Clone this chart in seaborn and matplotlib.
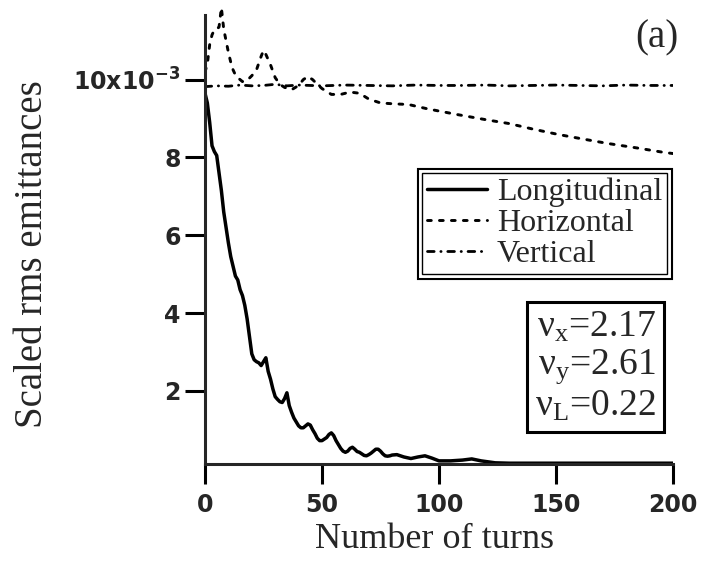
import matplotlib
matplotlib.use("Agg")
import matplotlib.pyplot as plt
import matplotlib.patheffects as pe
import seaborn as sns
import pandas as pd

# --- data -------------------------------------------------------------
long_turns = [0, 1, 2, 3, 4, 5, 6, 7, 8, 9, 10, 11, 12, 13, 14, 15, 16, 17, 18, 19,
              20, 21, 22, 23, 24, 25, 26, 27, 28, 29, 30, 31, 32, 33, 34, 35, 36, 37, 38, 39,
              40, 41, 42, 43, 44, 45, 46, 47, 48, 49, 50, 51, 52, 53, 54, 55, 56, 57, 58, 59,
              60, 61, 62, 63, 64, 65, 66, 67, 68, 69, 70, 71, 72, 73, 74, 75, 76, 77, 78, 79,
              80, 82, 85, 88, 91, 94, 97, 100, 105, 110, 114, 118, 124, 130, 140, 150, 160,
              170, 180, 190, 200]
long_emit = [9.65, 9.4, 8.9, 8.3, 8.15, 8.05, 7.6, 7.15, 6.6, 6.2, 5.8, 5.45, 5.2, 4.95, 4.85,
             4.6, 4.45, 4.2, 3.85, 3.4, 2.95, 2.8, 2.75, 2.72, 2.65, 2.75, 2.85, 2.5, 2.3, 2.05,
             1.85, 1.78, 1.72, 1.7, 1.8, 1.95, 1.62, 1.45, 1.3, 1.2, 1.1, 1.05, 1.05, 1.1, 1.15,
             1.12, 1.0, 0.9, 0.78, 0.72, 0.72, 0.76, 0.8, 0.88, 0.92, 0.85, 0.72, 0.62, 0.52,
             0.45, 0.42, 0.45, 0.52, 0.55, 0.5, 0.44, 0.42, 0.38, 0.34, 0.33, 0.36, 0.4, 0.45,
             0.5, 0.5, 0.45, 0.38, 0.33, 0.32, 0.33, 0.35, 0.36, 0.3, 0.26, 0.3, 0.33, 0.27,
             0.2, 0.2, 0.22, 0.25, 0.2, 0.15, 0.14, 0.14, 0.14, 0.14, 0.14, 0.14, 0.14, 0.14]

horiz_turns = [0, 1, 2, 3, 4, 5, 6, 7, 8, 9, 10, 11, 12, 13, 14, 16, 18, 20, 22, 24, 25, 26,
               28, 30, 32, 34, 37, 40, 42, 44, 46, 48, 50, 54, 58, 62, 66, 70, 75, 80, 87,
               95, 108, 120, 130, 140, 151, 160, 172, 185, 196, 200]
horiz_emit = [10.2, 10.4, 10.9, 11.15, 11.28, 11.3, 11.35, 11.85, 11.3, 11.0, 10.7, 10.45,
              10.25, 10.12, 10.05, 9.95, 9.98, 10.1, 10.25, 10.6, 10.75, 10.65, 10.38, 10.05,
              9.88, 9.8, 9.74, 9.85, 10.0, 10.08, 10.0, 9.88, 9.77, 9.62, 9.62, 9.68, 9.65,
              9.5, 9.4, 9.38, 9.36, 9.25, 9.1, 8.97, 8.87, 8.73, 8.59, 8.49, 8.36, 8.24,
              8.13, 8.1]

vert_turns = [0, 5, 10, 15, 20, 25, 30, 35, 40, 45, 50, 60, 70, 80, 90, 100, 110, 120, 130,
              140, 150, 160, 170, 180, 190, 200]
vert_emit = [9.82, 9.84, 9.83, 9.86, 9.84, 9.85, 9.88, 9.84, 9.86, 9.85, 9.84, 9.86, 9.85,
             9.84, 9.86, 9.85, 9.85, 9.86, 9.84, 9.85, 9.86, 9.85, 9.84, 9.86, 9.85, 9.85]

series_names = ["Longitudinal", "Horizontal", "Vertical"]
y_ticks = [2, 4, 6, 8, 10]
y_tick_labels = ["2", "4", "6", "8", r"10x10$^{\mathregular{-3}}$"]
x_ticks = [0, 50, 100, 150, 200]
tune_lines = [r"$\mathregular{ν_x}$=2.17", r"$\mathregular{ν_y}$=2.61", r"$\mathregular{ν_L}$=0.22"]

# --- style ------------------------------------------------------------
sns.set_style("ticks")
plt.rcParams["font.family"] = ["Liberation Serif", "DejaVu Serif"]
plt.rcParams["mathtext.fontset"] = "custom"
plt.rcParams["mathtext.rm"] = "Liberation Serif"

fig = plt.figure(figsize=(7.02, 5.65), dpi=100)
ax = fig.add_axes([205 / 702, 0.1788, 468 / 702, 0.8111])

frames = [
    pd.DataFrame({"turn": long_turns, "emit": long_emit}),
    pd.DataFrame({"turn": horiz_turns, "emit": horiz_emit}),
    pd.DataFrame({"turn": vert_turns, "emit": vert_emit}),
]
styles = [
    dict(linestyle="-", linewidth=2.5, solid_joinstyle="round"),
    dict(linestyle=(0, (1.3, 2.8)), linewidth=2.1, dash_capstyle="round"),
    dict(linestyle=(0, (2.4, 2.4, 0.1, 2.4)), linewidth=2.0, dash_capstyle="round"),
]
for df, name, st in zip(frames, series_names, styles):
    sns.lineplot(data=df, x="turn", y="emit", ax=ax, color="black", label=name,
                 estimator=None, sort=False, **st)

ax.set_xlim(0, 200)
ax.set_ylim(0.12, 11.9)
sns.despine(ax=ax)
for side in ("left", "bottom"):
    ax.spines[side].set_linewidth(2.2)
ax.spines["left"].set_bounds(0.12, 11.66)

ax.set_xticks(x_ticks)
ax.set_xticklabels([str(t) for t in x_ticks])
ax.set_yticks(y_ticks)
ax.set_yticklabels(y_tick_labels)
ax.tick_params(axis="both", direction="out", length=14.5, width=2.2, color="black")
ax.tick_params(axis="x", pad=6.5)
ax.tick_params(axis="y", pad=3)
for lab in ax.get_xticklabels() + ax.get_yticklabels():
    lab.set_family("DejaVu Sans")
    lab.set_weight("bold")
    lab.set_fontsize(17)

ax.set_xlabel("Number of turns", fontsize=26)
ax.set_ylabel("Scaled rms emittances", fontsize=28)
ax.xaxis.set_label_coords(0.491, -0.1285)
ax.yaxis.set_label_coords(-0.33, 0.4575)

leg = ax.legend(loc="upper right", bbox_to_anchor=(0.987, 0.636), borderaxespad=0,
                fontsize=23, frameon=True, fancybox=False, edgecolor="black",
                handlelength=1.9, handletextpad=0.3, labelspacing=0.05,
                borderpad=0.15)
frame = leg.get_frame()
frame.set_linewidth(1.0)
frame.set_facecolor("white")
frame.set_alpha(1)
frame.set_path_effects([pe.Stroke(linewidth=8, foreground="black"),
                        pe.Stroke(linewidth=5, foreground="white"),
                        pe.Normal()])

ax.text(0.9637, 0.3355, "\n".join(tune_lines), transform=ax.transAxes,
        ha="right", va="top", fontsize=27, linespacing=1.1,
        bbox=dict(boxstyle="square,pad=0.22", facecolor="white",
                  edgecolor="black", linewidth=2.2))

fig.text(657 / 702, 1 - 38 / 565, "(a)", ha="center", va="center", fontsize=28)

fig.savefig("out.png", dpi=100, facecolor="white")
